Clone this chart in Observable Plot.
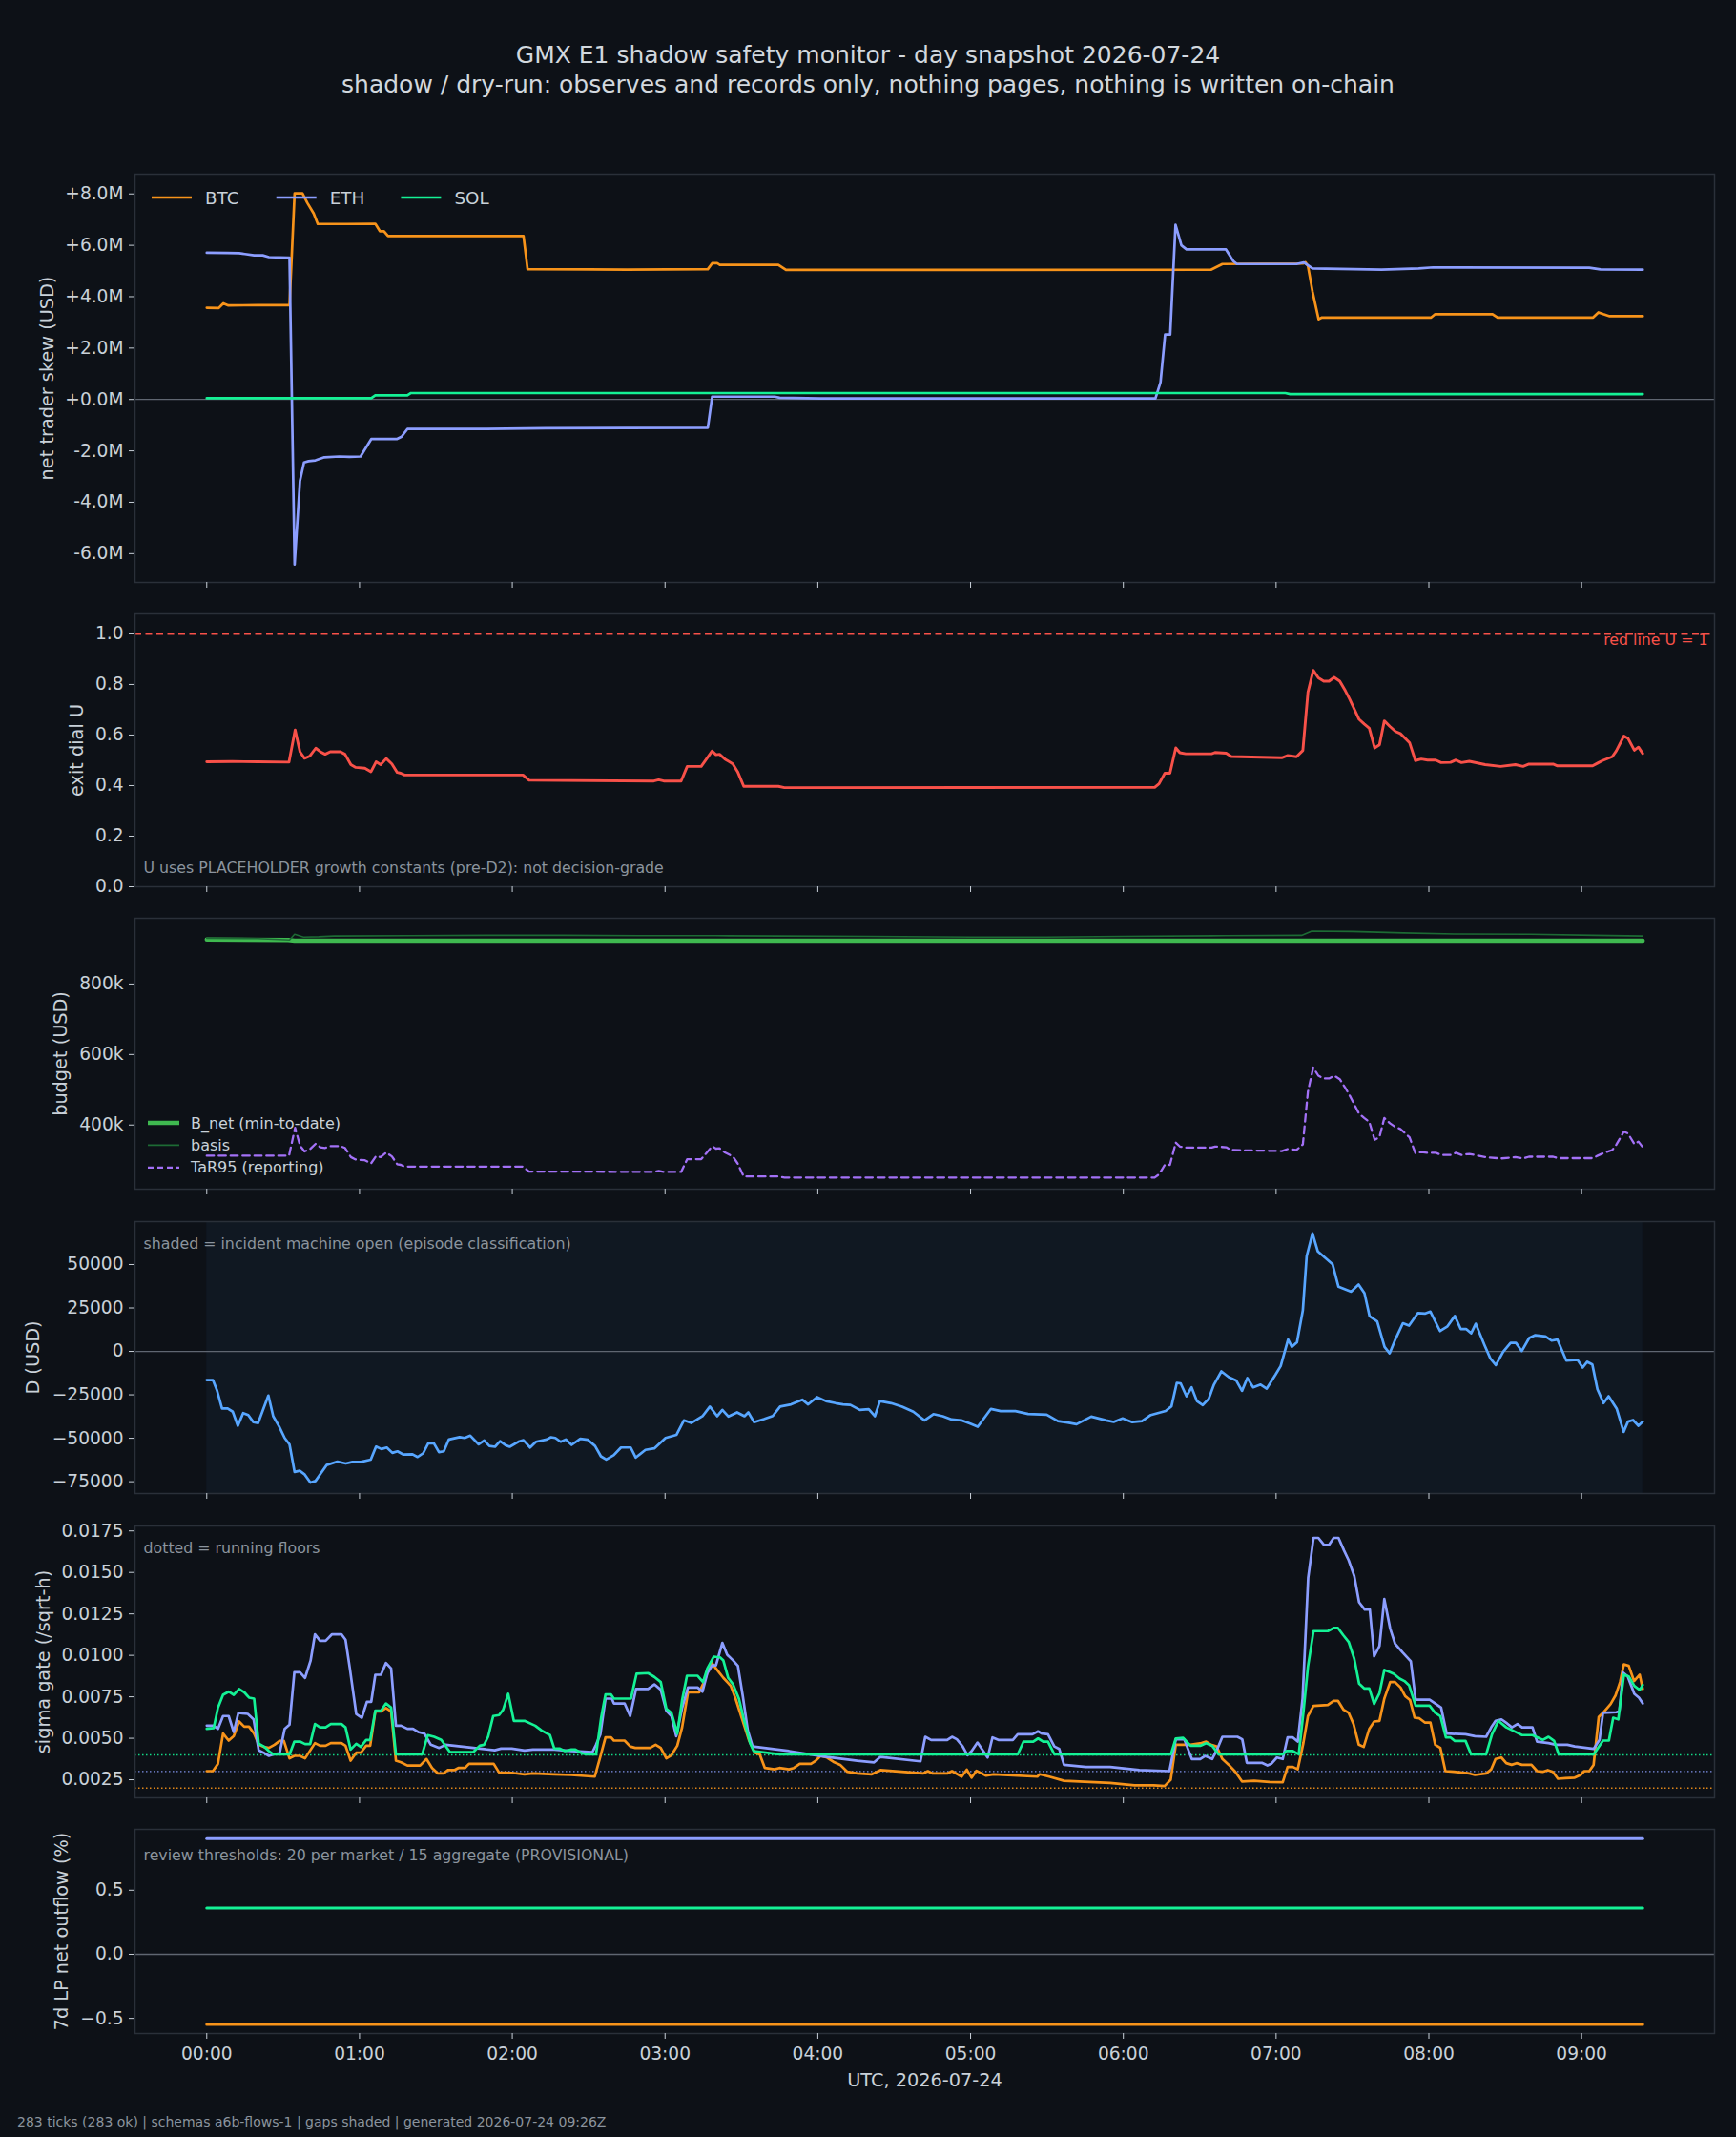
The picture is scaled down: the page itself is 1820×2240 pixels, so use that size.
<!DOCTYPE html>
<html>
<head>
<meta charset="utf-8">
<script src="https://cdn.jsdelivr.net/npm/d3@7"></script>
<script src="https://cdn.jsdelivr.net/npm/@observablehq/plot@0.6"></script>
<style>
  html, body { margin: 0; padding: 0; background: #0d1117; }
  #fig { position: relative; width: 1820px; height: 2240px; background: #0d1117;
         font-family: "DejaVu Sans", sans-serif; color: #c9d1d9; overflow: hidden; }
  .abs { position: absolute; }
  .title { left: 0; width: 1820px; text-align: center; font-size: 25px; line-height: 31px; color: #d2d8de; white-space: nowrap; }
  .footer { left: 18px; font-size: 14px; line-height: 16px; color: #8b949e; white-space: nowrap; }
  #fig svg { overflow: visible; }
</style>
</head>
<body>
<div id="fig">
  <div class="abs title" style="top:42px">GMX E1 shadow safety monitor - day snapshot 2026-07-24</div>
  <div class="abs title" style="top:73px">shadow / dry-run: observes and records only, nothing pages, nothing is written on-chain</div>
  <div class="abs footer" style="top:2216px">283 ticks (283 ok) | schemas a6b-flows-1 | gaps shaded | generated 2026-07-24 09:26Z</div>
</div>
<script>
// ---------------------------------------------------------------------------
// Data: minutes after 00:00 UTC, value. One tick every 2 minutes, 00:00-09:24.
// ---------------------------------------------------------------------------
const markets = ["BTC", "ETH", "SOL"];
const hourTicks = [0, 60, 120, 180, 240, 300, 360, 420, 480, 540];
const hourLabels = ["00:00", "01:00", "02:00", "03:00", "04:00", "05:00", "06:00", "07:00", "08:00", "09:00"];
const sessionSpan = [0, 564];

// net trader skew, USD millions
const btcSkew = [[0,3.57],[4.7,3.56],[6.5,3.74],[8.5,3.66],[20,3.67],[32.5,3.67],[34.5,8.02],[37.6,8.02],[39.5,7.65],[42,7.24],[43.6,6.83],[55,6.83],[66.2,6.84],[68,6.55],[69.6,6.55],[71.2,6.36],[90,6.36],[124.4,6.36],[126,5.07],[150,5.06],[165,5.05],[196.8,5.07],[198.5,5.3],[200.5,5.3],[201.5,5.24],[224.5,5.24],[227.5,5.04],[300,5.04],[394.4,5.05],[398.9,5.27],[430.5,5.29],[431.5,5.34],[432.5,5.2],[434.3,4.2],[436.7,3.12],[438,3.19],[480.9,3.19],[482.5,3.32],[505,3.32],[507,3.19],[544.5,3.19],[546.6,3.39],[548.5,3.32],[551,3.24],[564,3.24]];
const ethSkew = [[0,5.71],[8,5.7],[12.7,5.69],[15,5.66],[18.6,5.61],[22,5.61],[24.4,5.54],[32.5,5.52],[34.5,-6.42],[36.6,-3.17],[38.2,-2.45],[40,-2.4],[42.7,-2.37],[46.2,-2.25],[52,-2.22],[56,-2.23],[60.4,-2.22],[64.6,-1.54],[74.6,-1.54],[76.5,-1.45],[78.8,-1.15],[110,-1.15],[133,-1.12],[196.8,-1.1],[198.5,0.11],[223,0.11],[225,0.07],[241,0.04],[372.6,0.04],[374.6,0.67],[376.4,2.53],[378.4,2.53],[380.5,6.8],[382.8,6.0],[384.8,5.84],[400.3,5.84],[403.2,5.38],[404.6,5.27],[428,5.27],[430.9,5.33],[434.3,5.1],[461.4,5.05],[476,5.1],[481.7,5.14],[543,5.13],[547.4,5.06],[564,5.05]];
const solSkew = [[0,0.05],[64.6,0.05],[66.2,0.16],[78.8,0.16],[80.2,0.25],[423.6,0.25],[425.5,0.21],[564,0.21]];

// exit dial U and its red line
const exitDialU = [[0,0.494],[10,0.495],[20,0.494],[32.3,0.493],[34.7,0.62],[36.6,0.534],[38.4,0.508],[40.5,0.517],[42.8,0.548],[44.6,0.534],[46.5,0.524],[48.5,0.534],[52.5,0.534],[54.3,0.524],[56.6,0.483],[58.5,0.472],[62.1,0.469],[64.5,0.455],[66.5,0.494],[68.3,0.483],[70.5,0.507],[72.7,0.486],[74.8,0.452],[76.2,0.449],[77.7,0.442],[124.2,0.442],[126.6,0.421],[175.6,0.418],[177.5,0.423],[179.5,0.418],[186.3,0.418],[188.7,0.476],[194.2,0.476],[198.5,0.537],[200,0.522],[201.4,0.524],[203.5,0.505],[206.6,0.486],[208.5,0.455],[210.9,0.397],[224.5,0.397],[226.9,0.392],[372.3,0.393],[374,0.407],[376.3,0.449],[378.3,0.449],[380.6,0.549],[382.2,0.53],[384.5,0.526],[394.7,0.526],[396,0.531],[400.4,0.528],[402.4,0.515],[422.2,0.51],[424.6,0.519],[428,0.514],[430.5,0.539],[432.5,0.769],[434.6,0.856],[436.6,0.826],[438.7,0.813],[440.8,0.813],[442.8,0.828],[445,0.813],[447.2,0.775],[448.8,0.744],[452.6,0.662],[454.6,0.644],[456.6,0.627],[458.7,0.549],[460.6,0.561],[462.5,0.656],[464.7,0.634],[466.9,0.614],[468.8,0.606],[472.4,0.57],[474.7,0.499],[477,0.505],[479.5,0.501],[482.7,0.501],[484.8,0.491],[488.5,0.492],[490.6,0.501],[492.8,0.491],[495.9,0.496],[502.1,0.483],[508.2,0.476],[514,0.483],[517,0.476],[519.3,0.485],[528.8,0.485],[530.5,0.478],[544.3,0.478],[546.3,0.489],[548.2,0.499],[552,0.514],[553.6,0.537],[556.6,0.596],[558.2,0.587],[560.7,0.54],[562.3,0.552],[564,0.527]];
const redLine = [1];

// budget, USD thousands
const bNet = [[0,926],[32,925],[34.5,923],[564,923]];
const basis = [[0,930],[20,929],[32.5,925],[34.5,941],[38,933],[44,934],[50,936],[80,937],[110,938],[140,938],[170,937],[200,937],[225,936],[260,935],[300,933],[330,933],[360,935],[400,937],[430,938],[434,950],[450,949],[470,945],[490,942],[520,941],[545,938],[564,936]];
const tar95 = [[0,313],[32.3,313],[34.7,392],[36.6,342],[38.4,325],[40.5,331],[42.8,347],[44.6,337],[46.5,335],[48.5,340],[52.5,340],[54.3,335],[56.6,309],[58.5,302],[62.1,300],[64.5,291],[66.5,312],[68.3,309],[70.5,322],[72.7,311],[74.8,289],[76.2,287],[77.7,282],[124.2,282],[126.6,268],[175.6,267],[177.5,270],[179.5,267],[186.3,267],[188.7,303],[194.2,303],[198.5,340],[200,333],[201.4,334],[203.5,322],[206.6,311],[208.5,291],[210.9,254],[224.5,254],[226.9,251],[372.3,251],[374,260],[376.3,287],[378.3,287],[380.6,350],[382.2,339],[384.5,336],[394.7,336],[396,339],[400.4,337],[402.4,329],[422.2,326],[424.6,332],[428,329],[430.5,345],[432.5,495],[434.6,563],[436.6,540],[438.7,532],[440.8,532],[442.8,540],[445,530],[447.2,505],[448.8,485],[452.6,432],[454.6,420],[456.6,409],[458.7,358],[460.6,366],[462.5,420],[464.7,405],[466.9,394],[468.8,389],[472.4,365],[474.7,320],[477,323],[479.5,321],[482.7,321],[484.8,315],[488.5,315],[490.6,321],[492.8,315],[495.9,318],[502.1,309],[508.2,305],[514,309],[517,305],[519.3,310],[528.8,310],[530.5,306],[544.3,306],[546.3,313],[548.2,319],[552,329],[553.6,344],[556.6,381],[558.2,376],[560.7,346],[562.3,353],[564,337]];

// D, USD
const dUsd = [[0,-16500],[2.4,-16500],[4,-22300],[6,-32900],[8.2,-32900],[10.2,-34700],[12.2,-42800],[14.3,-35500],[16.3,-36600],[18.3,-40700],[20.2,-41200],[24.2,-25400],[26.1,-37300],[28.5,-43400],[30.6,-49800],[32.5,-53500],[34.5,-69400],[36.5,-68700],[38.5,-70900],[40.7,-75500],[42.7,-74600],[44.9,-70000],[47.1,-65400],[51.3,-63400],[54.6,-64500],[57.2,-63600],[60.5,-63600],[64.4,-62300],[66.5,-54800],[68.6,-56200],[70.7,-55300],[72.9,-58400],[74.9,-57500],[77.1,-59300],[80.8,-59200],[82.8,-60800],[85,-58600],[87,-52900],[89.2,-52900],[91.2,-58000],[93.1,-57500],[95.1,-50700],[99.3,-49300],[101.3,-49800],[103.5,-48500],[106.8,-53500],[109,-51300],[111,-54400],[113.2,-54900],[115.2,-51700],[117.4,-54000],[119,-54900],[122.8,-51700],[124.4,-51100],[127,-55300],[129.3,-52000],[133.5,-50700],[135.2,-49400],[136.9,-49800],[139,-52000],[141,-50700],[143.3,-53800],[146.7,-50300],[149.6,-50800],[152.5,-54400],[154.8,-60400],[156.9,-62200],[159.8,-59800],[162.7,-55300],[166.5,-55300],[168.5,-61100],[172.3,-56700],[175.8,-55800],[180.2,-49800],[184.5,-48000],[187.4,-39700],[190.3,-41200],[194.7,-37300],[197.6,-31800],[200.5,-37300],[202.5,-33700],[204.9,-37500],[208.3,-35100],[211.2,-37300],[212.7,-35100],[215,-40800],[218.8,-39000],[222.3,-37200],[225.2,-31800],[229.5,-30500],[233.9,-27800],[236.2,-30500],[239.7,-26300],[243.2,-28600],[247,-29800],[249.9,-30500],[252.8,-30800],[256.5,-33700],[260,-33300],[262.4,-37300],[264.4,-28600],[268.8,-29800],[273.1,-31800],[277.5,-34700],[281.9,-39700],[285.4,-36100],[289.1,-37300],[292.6,-39200],[296.4,-39700],[299.9,-41600],[302.8,-43400],[305.1,-38800],[308,-33100],[311.8,-34400],[317.6,-34400],[322.6,-36000],[329.9,-36400],[334.3,-40100],[338.1,-41000],[341.6,-41900],[347.4,-37500],[353.3,-39700],[356.2,-40600],[359.7,-38600],[363.5,-40700],[367.3,-40100],[370.8,-36600],[376.6,-34300],[378.9,-31600],[381,-18100],[382.5,-18400],[384.8,-25800],[386.8,-20700],[388.9,-28600],[391.2,-30900],[393.5,-27400],[395.6,-19100],[398.5,-11500],[401.4,-14800],[404.3,-16700],[406.6,-22700],[408.7,-15300],[411,-20700],[413.9,-19100],[416.3,-21400],[419.8,-13300],[421.8,-8400],[424.7,6800],[426.2,2600],[428.2,5300],[430.5,23600],[432,54800],[434.3,67900],[436.4,57500],[439.3,53800],[442.2,50100],[444.5,37200],[449.5,34400],[452.4,38500],[454.7,33500],[456.7,20300],[459.7,17200],[462.6,2600],[464.6,-1100],[466.9,7100],[469.8,16200],[472.2,14800],[475.7,22100],[478.6,21800],[480.6,22900],[484.4,11700],[487.3,14400],[490.2,20400],[492.5,12900],[494.6,12900],[496.6,10400],[498.4,15900],[501.9,3500],[504.2,-4200],[506.3,-7900],[509.2,-200],[512.1,4900],[514.2,4900],[516.5,200],[519.4,7700],[521.8,9300],[525.8,8600],[528.2,6200],[530.5,6800],[534,-5300],[538.4,-4900],[540.4,-9300],[542.2,-6000],[544.2,-7500],[546.2,-21800],[548.6,-29800],[550.6,-25800],[553.8,-33100],[556.5,-46300],[558.2,-40400],[560.2,-39500],[562.3,-42800],[564,-40400]];
const incidentWindows = [[0, 564]];

// sigma gate, per sqrt-hour, and running floors
const btcSigma = [[0,0.00302],[2.4,0.00302],[4.4,0.00346],[6.4,0.00528],[8.6,0.00486],[10.6,0.00513],[12.7,0.00601],[14.7,0.0057],[16.6,0.0057],[18.6,0.00528],[20.4,0.00461],[22.4,0.00448],[24.4,0.00442],[26.6,0.00461],[28.6,0.00484],[30.3,0.00484],[32.5,0.00379],[34.4,0.00394],[36.6,0.00394],[38.6,0.00379],[42.5,0.00471],[44.5,0.00455],[46.7,0.00455],[48.7,0.00471],[52.9,0.00471],[54.5,0.00455],[56.5,0.00365],[58.7,0.00413],[60.5,0.00413],[62.6,0.00455],[64.2,0.00455],[66.2,0.00662],[68.4,0.00662],[70.4,0.00682],[72.4,0.00662],[74.3,0.00365],[76.3,0.00355],[78.8,0.00336],[83.8,0.00336],[86.3,0.00375],[88.5,0.00321],[90.8,0.00288],[93,0.00288],[94.6,0.00308],[97.2,0.00308],[98.8,0.00321],[101.4,0.00321],[103,0.00346],[112.7,0.00346],[114.8,0.00294],[119.8,0.00292],[124.8,0.00283],[128.1,0.00288],[136.5,0.00283],[143.2,0.00279],[152.4,0.00269],[154.6,0.0039],[156.6,0.00505],[158.8,0.00505],[159.9,0.00486],[164.1,0.00486],[166.3,0.00451],[168.3,0.00442],[174.1,0.00442],[176.3,0.00461],[178.3,0.00442],[180.5,0.00379],[182.5,0.00398],[184.8,0.00455],[186.7,0.00566],[189,0.00777],[193.4,0.00777],[195.3,0.00839],[198.1,0.0096],[200,0.00921],[202.9,0.00864],[205.8,0.00816],[207.7,0.00739],[210.5,0.00605],[213,0.00486],[215.3,0.00413],[217.2,0.00403],[219.2,0.00321],[223,0.00313],[224.9,0.00321],[228.7,0.00313],[230.6,0.00321],[232.9,0.00346],[237.3,0.00346],[239.2,0.00365],[241.1,0.00394],[243.6,0.00384],[246.5,0.00355],[248.8,0.0034],[251.6,0.00298],[255.5,0.00288],[261.2,0.00283],[264.6,0.00308],[281.3,0.00288],[283.2,0.00302],[285.1,0.00288],[290.8,0.00288],[292.7,0.00302],[296.5,0.00269],[298.5,0.00311],[300.4,0.00263],[302.3,0.00304],[306.1,0.00275],[309,0.00283],[326.2,0.00269],[327.1,0.00283],[330.9,0.00269],[336.7,0.00244],[354.8,0.00231],[364.4,0.00217],[372,0.00217],[376.2,0.00212],[378.6,0.0025],[380.6,0.00461],[386.3,0.00461],[390.7,0.00471],[392.5,0.0048],[394.4,0.00461],[396.6,0.00451],[398.9,0.00375],[401.4,0.0034],[404,0.00298],[406.6,0.0024],[411.4,0.00244],[417.4,0.00237],[422.6,0.00235],[424.5,0.00327],[426.6,0.00327],[428.5,0.00313],[430.7,0.00471],[432.5,0.00634],[434.7,0.00695],[440.3,0.00701],[442.6,0.00726],[444.3,0.00726],[446.5,0.00672],[448.5,0.00653],[450.4,0.00586],[452.5,0.00461],[454.4,0.00448],[456.6,0.00557],[458.5,0.00601],[460.6,0.00605],[462.5,0.00739],[464.8,0.00839],[466.7,0.00839],[468.9,0.00806],[470.7,0.00754],[472.6,0.0073],[474.4,0.00624],[476.3,0.0062],[478.4,0.00595],[480.6,0.00595],[482.5,0.00461],[484.5,0.00442],[486.5,0.00302],[489.9,0.00298],[495.9,0.00288],[498.1,0.00279],[502.5,0.00288],[504.5,0.00313],[506.2,0.00375],[508.5,0.00384],[510.4,0.0035],[512.5,0.0034],[514.4,0.0035],[516.6,0.0034],[520.3,0.0034],[522.5,0.00302],[524.7,0.00298],[526.7,0.00308],[528.7,0.00298],[530.7,0.00256],[533.6,0.0026],[537.3,0.00263],[539.6,0.00279],[541,0.00302],[543,0.00302],[544.7,0.0034],[546.7,0.00628],[548.9,0.00662],[551.4,0.00707],[553.3,0.00758],[555.1,0.00839],[556.6,0.00946],[558.5,0.00937],[560.6,0.00845],[562.8,0.00883],[564,0.00797]];
const ethSigma = [[0,0.00576],[2.7,0.00576],[4.4,0.00557],[6.4,0.00634],[8.6,0.00634],[10.6,0.00538],[12.4,0.00653],[16.1,0.00647],[18.4,0.00614],[20.4,0.00428],[22.3,0.00413],[24.4,0.00394],[26.1,0.00403],[28.6,0.00409],[30.6,0.00557],[32.5,0.00582],[34.4,0.00898],[36.6,0.00898],[38.6,0.00864],[40.8,0.00969],[42.5,0.01127],[44.5,0.01088],[46.7,0.01088],[49.2,0.01127],[52.9,0.01127],[54.5,0.01094],[56.2,0.00921],[58.7,0.00647],[60.9,0.00624],[62.9,0.0072],[64.6,0.0072],[66.2,0.00883],[68.4,0.00883],[70.4,0.00954],[72.4,0.00921],[74.3,0.00576],[76.3,0.00576],[78.8,0.00557],[81,0.00557],[83,0.00538],[85.5,0.00528],[88,0.00461],[91.3,0.00442],[93.8,0.00461],[101.4,0.00448],[108.1,0.00436],[113.1,0.00428],[115.6,0.00438],[119.8,0.00438],[124.8,0.00426],[128.1,0.00432],[136.5,0.00432],[143.2,0.00423],[151.5,0.00417],[152.9,0.00461],[154.6,0.00524],[156.6,0.00739],[159.1,0.00739],[159.9,0.0071],[164.1,0.0071],[166.3,0.00634],[168.6,0.00797],[173.3,0.00797],[175.8,0.00825],[178.3,0.00793],[180.5,0.00666],[182.5,0.00634],[184.4,0.00513],[186.7,0.00682],[189,0.00806],[192.8,0.00806],[194.7,0.00781],[196.6,0.00893],[198.5,0.0094],[200,0.0094],[202.5,0.01075],[204.4,0.01004],[206.7,0.0097],[208.6,0.00937],[210.5,0.00758],[212.5,0.00547],[214.4,0.00451],[228.7,0.00423],[242.1,0.0039],[255.5,0.00365],[262.1,0.00355],[264.6,0.00388],[280.3,0.00361],[282.2,0.00509],[284.5,0.0049],[290.8,0.0049],[292.7,0.00509],[294.6,0.00494],[296.9,0.00451],[298.8,0.00398],[300.4,0.00423],[302.7,0.00474],[306.7,0.00384],[308.6,0.00505],[310.9,0.0049],[316.6,0.0049],[318.5,0.00524],[324.3,0.00524],[326.5,0.00542],[328.1,0.00528],[330.4,0.00524],[332.9,0.00451],[334.8,0.00436],[336.7,0.0034],[345.3,0.00327],[354.8,0.00327],[366.3,0.00308],[378.1,0.00302],[380.6,0.00494],[383.9,0.00494],[386.9,0.00375],[390.2,0.00375],[392.1,0.00394],[394.9,0.00375],[396.9,0.00436],[398.9,0.00509],[404.8,0.00509],[406.7,0.00494],[408.5,0.00352],[414.4,0.00352],[416.6,0.00336],[418.1,0.00346],[420.3,0.00384],[422.6,0.00375],[424.5,0.00505],[426.6,0.00505],[428.5,0.0048],[430.4,0.00739],[432.6,0.01468],[434.7,0.01708],[436.6,0.01708],[438.8,0.01666],[440.8,0.01666],[442.6,0.01708],[444.5,0.01708],[446.7,0.01631],[448.5,0.01573],[450.7,0.01478],[452.6,0.0132],[454.8,0.01276],[456.8,0.01276],[458.5,0.00994],[460.6,0.01056],[462.5,0.01339],[464.8,0.01161],[466.7,0.01071],[469.7,0.01017],[472.9,0.00964],[474.8,0.00733],[480.3,0.00733],[482.5,0.0071],[484.8,0.00685],[487,0.00528],[494.4,0.00524],[498.1,0.00513],[502.5,0.00509],[504.5,0.00566],[506.2,0.00605],[508.5,0.00614],[510.7,0.0059],[512.6,0.00566],[514.8,0.00586],[516.6,0.00566],[520.7,0.00566],[522.5,0.0048],[527,0.00471],[529.9,0.00461],[534.4,0.00461],[537.3,0.00451],[541.8,0.00442],[544.7,0.00436],[547,0.0049],[548.4,0.00653],[553.6,0.00657],[554.8,0.00662],[556.3,0.00896],[558.1,0.00873],[560.7,0.00768],[562.5,0.00745],[564,0.0071]];
const solSigma = [[0,0.00557],[2.7,0.00561],[4.4,0.00685],[6.4,0.00762],[8.6,0.00781],[10.6,0.00762],[12.7,0.00797],[14.7,0.00778],[16.6,0.00745],[18.6,0.00739],[20.4,0.00467],[22.4,0.00451],[24.4,0.00423],[26.1,0.00403],[32.5,0.00403],[34.4,0.0048],[36.6,0.0048],[38.6,0.00465],[40.6,0.00465],[42.5,0.00586],[44.5,0.00566],[46.7,0.00566],[48.7,0.00586],[52.9,0.00586],[54.5,0.00566],[56.5,0.00432],[58.7,0.00467],[60.5,0.00448],[62.6,0.0049],[64.2,0.0049],[66.2,0.00666],[68.4,0.00666],[70.4,0.0071],[72.4,0.00685],[74.3,0.00403],[84.6,0.00403],[86.8,0.00519],[89.3,0.00509],[92.1,0.0049],[95.5,0.00417],[104.7,0.00417],[107.2,0.00455],[108.9,0.00461],[110.5,0.00509],[112.5,0.00634],[114.8,0.0064],[116.4,0.00672],[118.4,0.00768],[120.6,0.00605],[124.8,0.00605],[129,0.00576],[131.5,0.00547],[134.8,0.00519],[136.5,0.00438],[138.5,0.00438],[140.7,0.00423],[143.2,0.00432],[144.8,0.00432],[146.8,0.00413],[149,0.00403],[152.9,0.00403],[154.9,0.00624],[156.6,0.00764],[158.8,0.00764],[159.9,0.00739],[166.6,0.00739],[168.8,0.00889],[173.3,0.00893],[175.8,0.0087],[178.3,0.00839],[180.5,0.00678],[182.5,0.00653],[184.8,0.00528],[186.7,0.0073],[188.6,0.00877],[192.8,0.00877],[194.9,0.00839],[196.6,0.00921],[199.1,0.00992],[201.6,0.00988],[202.9,0.00969],[204.8,0.00864],[206.7,0.00825],[209,0.00739],[211.1,0.00605],[213.4,0.00471],[214.8,0.00423],[224.9,0.00403],[318.5,0.00403],[320.8,0.0048],[324.6,0.0048],[326.5,0.00499],[328.5,0.0048],[330.4,0.0048],[332.9,0.00403],[378.7,0.00403],[380.6,0.00499],[383.5,0.00503],[386.4,0.00455],[390.2,0.00455],[392.5,0.0047],[394.9,0.00455],[397.4,0.00403],[422.6,0.00403],[424,0.00423],[426.6,0.00423],[428.9,0.00403],[430.7,0.00653],[432.5,0.00931],[434.7,0.01146],[440.3,0.01146],[442.6,0.01165],[444.3,0.01165],[446.3,0.01123],[448.5,0.01081],[450.7,0.00979],[452.6,0.00829],[454.7,0.008],[456.6,0.008],[458.5,0.00707],[460.6,0.00772],[462.5,0.00912],[464.5,0.009],[466.2,0.00889],[468.5,0.0086],[470.4,0.00845],[472.2,0.0082],[474.8,0.00697],[480.3,0.00697],[482.5,0.00653],[484.5,0.00634],[486.7,0.00505],[488.5,0.00505],[490.2,0.00484],[494.4,0.00484],[496.6,0.00403],[502.5,0.00403],[504.8,0.00524],[507.3,0.00605],[510.4,0.00566],[512.9,0.00547],[516.6,0.00519],[520.7,0.00519],[524.7,0.0049],[527,0.00509],[529.2,0.00484],[531,0.00403],[544.7,0.00403],[547,0.00455],[548.4,0.00486],[550.7,0.00486],[552.4,0.00624],[554.4,0.00614],[556.6,0.00883],[558.5,0.00873],[560.7,0.00816],[562.8,0.00791],[564,0.00822]];
const sigmaFloors = [0.0020, 0.0030, 0.0040]; // BTC, ETH, SOL

// 7d LP net outflow, percent (BTC, ETH, SOL)
const lpOutflowPct = [-0.548, 0.903, 0.36];

// ---------------------------------------------------------------------------
// Styling
// ---------------------------------------------------------------------------
const C = {
  BTC: "#f7931a", ETH: "#8c9eff", SOL: "#14f195",
  U: "#f85149", bNet: "#3fb950", basis: "#1d6b34", tar: "#a371f7", D: "#58a6ff",
  text: "#c9d1d9", note: "#8b949e", frame: "#2a3039", zero: "#5f6671"
};
const FONT = "DejaVu Sans, sans-serif";
const FIG_W = 1820, M_LEFT = 141, M_RIGHT = 23;
const TICK_FS = 18.6, LABEL_FS = 19.3, NOTE_FS = 15.8;
const LW = 2.7;
const xDomain = [-28.2, 592.2];
const fig = document.getElementById("fig");
const px = d => d[0], py = d => d[1];

function panel({frameTop, frameHeight, y, label, labelX, marks, showX = false}) {
  const mt = 12, mb = showX ? 80 : 14;
  const chart = Plot.plot({
    width: FIG_W,
    height: frameHeight + mt + mb,
    marginLeft: M_LEFT, marginRight: M_RIGHT, marginTop: mt, marginBottom: mb,
    style: {background: "none", color: C.text, fontFamily: FONT, fontSize: TICK_FS + "px"},
    x: {type: "linear", domain: xDomain},
    y: {type: "linear", domain: y.domain},
    marks: [
      ...marks,
      Plot.frame({stroke: C.frame, strokeWidth: 1.5}),
      Plot.axisX({
        ticks: hourTicks, tickSize: 6, tickPadding: 8, label: null,
        tickFormat: showX ? (d => hourLabels[hourTicks.indexOf(d)]) : (() => "")
      }),
      Plot.axisY({ticks: y.ticks, tickFormat: y.format, tickSize: 6, tickPadding: 6, label: null}),
      Plot.text([label], {
        text: d => d, frameAnchor: "left", dx: labelX - M_LEFT, rotate: -90,
        textAnchor: "middle", lineAnchor: "middle", fill: C.text, fontSize: LABEL_FS
      }),
      ...(showX ? [Plot.text(["UTC, 2026-07-24"], {
        text: d => d, frameAnchor: "bottom", dy: 49, lineAnchor: "middle", fill: C.text, fontSize: LABEL_FS
      })] : [])
    ]
  });
  chart.style.position = "absolute";
  chart.style.left = "0px";
  chart.style.top = (frameTop - mt) + "px";
  chart.style.maxWidth = "none";
  fig.appendChild(chart);
}

function note(textValue, anchor, dx, dy, opts = {}) {
  return Plot.text([textValue], {
    text: d => d, frameAnchor: anchor, dx, dy, lineAnchor: "middle",
    textAnchor: "start", fill: C.note, fontSize: NOTE_FS, ...opts
  });
}

const signedM = d => (d >= 0 ? "+" : "-") + Math.abs(d).toFixed(1) + "M";
const minusFmt = digits => d => (d < 0 ? "\u2212" : "") + (digits == null ? String(Math.abs(d)) : Math.abs(d).toFixed(digits));

// 1. net trader skew
panel({
  frameTop: 182, frameHeight: 428, label: "net trader skew (USD)", labelX: 49,
  y: {domain: [-7.12, 8.77], ticks: [-6, -4, -2, 0, 2, 4, 6, 8], format: signedM},
  marks: [
    Plot.ruleY([0], {stroke: C.zero, strokeWidth: 1.3}),
    Plot.line(btcSkew, {x: px, y: py, stroke: C.BTC, strokeWidth: LW}),
    Plot.line(ethSkew, {x: px, y: py, stroke: C.ETH, strokeWidth: LW}),
    Plot.line(solSkew, {x: px, y: py, stroke: C.SOL, strokeWidth: LW})
  ]
});

// 2. exit dial U
panel({
  frameTop: 643, frameHeight: 286, label: "exit dial U", labelX: 80,
  y: {domain: [0, 1.079], ticks: [0, 0.2, 0.4, 0.6, 0.8, 1.0], format: d => d.toFixed(1)},
  marks: [
    Plot.ruleY(redLine, {stroke: C.U, strokeWidth: 2, strokeDasharray: "7,4.5"}),
    Plot.line(exitDialU, {x: px, y: py, stroke: C.U, strokeWidth: 2.9}),
    note("red line U = 1", "top-right", -7, 27, {textAnchor: "end", fill: C.U}),
    note("U uses PLACEHOLDER growth constants (pre-D2): not decision-grade", "bottom-left", 9, -20)
  ]
});

// 3. budget
panel({
  frameTop: 962, frameHeight: 284, label: "budget (USD)", labelX: 63,
  y: {domain: [218, 986.5], ticks: [400, 600, 800], format: d => d + "k"},
  marks: [
    Plot.line(bNet, {x: px, y: py, stroke: C.bNet, strokeWidth: 4.5}),
    Plot.line(basis, {x: px, y: py, stroke: C.basis, strokeWidth: 1.6}),
    Plot.line(tar95, {x: px, y: py, stroke: C.tar, strokeWidth: 2.3, strokeDasharray: "7.5,5"})
  ]
});

// 4. D with incident shading
panel({
  frameTop: 1280, frameHeight: 285, label: "D (USD)", labelX: 34,
  y: {domain: [-81800, 74700], ticks: [-75000, -50000, -25000, 0, 25000, 50000], format: minusFmt(null)},
  marks: [
    Plot.rect(incidentWindows, {x1: px, x2: py, fill: C.D, fillOpacity: 0.05}),
    Plot.ruleY([0], {stroke: C.zero, strokeWidth: 1.3}),
    Plot.line(dUsd, {x: px, y: py, stroke: C.D, strokeWidth: LW}),
    note("shaded = incident machine open (episode classification)", "top-left", 9, 23)
  ]
});

// 5. sigma gate
const floorRows = markets.map((m, i) => ({market: m, floor: sigmaFloors[i]}));
panel({
  frameTop: 1599, frameHeight: 285, label: "sigma gate (/sqrt-h)", labelX: 45,
  y: {domain: [0.00141, 0.0178], ticks: [0.0025, 0.005, 0.0075, 0.01, 0.0125, 0.015, 0.0175], format: d => d.toFixed(4)},
  marks: [
    Plot.ruleY(floorRows, {y: "floor", stroke: d => C[d.market], strokeWidth: 1.4, strokeDasharray: "1.5,2.5", strokeOpacity: 0.9}),
    Plot.line(btcSigma, {x: px, y: py, stroke: C.BTC, strokeWidth: LW}),
    Plot.line(ethSigma, {x: px, y: py, stroke: C.ETH, strokeWidth: LW}),
    Plot.line(solSigma, {x: px, y: py, stroke: C.SOL, strokeWidth: LW}),
    note("dotted = running floors", "top-left", 9, 23)
  ]
});

// 6. 7d LP net outflow
const lpRows = markets.flatMap((m, i) => sessionSpan.map(t => ({market: m, t, v: lpOutflowPct[i]})));
panel({
  frameTop: 1917, frameHeight: 214, label: "7d LP net outflow (%)", labelX: 64, showX: true,
  y: {domain: [-0.618, 0.975], ticks: [-0.5, 0, 0.5], format: minusFmt(1)},
  marks: [
    Plot.ruleY([0], {stroke: C.zero, strokeWidth: 1.3}),
    Plot.line(lpRows, {x: "t", y: "v", z: "market", stroke: d => C[d.market], strokeWidth: 3}),
    note("review thresholds: 20 per market / 15 aggregate (PROVISIONAL)", "top-left", 9, 27)
  ]
});

// ---------------------------------------------------------------------------
// Legends
// ---------------------------------------------------------------------------
const NS = "http://www.w3.org/2000/svg";
function legend(entries, {x0, y0, dx, dy, swatch, gap, fontSize}) {
  const svg = document.createElementNS(NS, "svg");
  svg.setAttribute("width", FIG_W); svg.setAttribute("height", 2240);
  svg.style.position = "absolute"; svg.style.left = "0px"; svg.style.top = "0px";
  svg.style.pointerEvents = "none";
  entries.forEach((e, i) => {
    const x = x0 + i * dx, y = y0 + i * dy;
    const ln = document.createElementNS(NS, "line");
    ln.setAttribute("x1", x); ln.setAttribute("x2", x + swatch);
    ln.setAttribute("y1", y); ln.setAttribute("y2", y);
    ln.setAttribute("stroke", e.color); ln.setAttribute("stroke-width", e.width);
    if (e.dash) ln.setAttribute("stroke-dasharray", e.dash);
    svg.appendChild(ln);
    const tx = document.createElementNS(NS, "text");
    tx.setAttribute("x", x + gap); tx.setAttribute("y", y);
    tx.setAttribute("dominant-baseline", "central");
    tx.setAttribute("fill", C.text);
    tx.setAttribute("font-family", FONT); tx.setAttribute("font-size", fontSize);
    tx.textContent = e.label;
    svg.appendChild(tx);
  });
  fig.appendChild(svg);
}

legend(markets.map(m => ({label: m, color: C[m], width: LW})),
  {x0: 159, y0: 207, dx: 130.7, dy: 0, swatch: 42, gap: 56, fontSize: 18.3});

legend([
  {label: "B_net (min-to-date)", color: C.bNet, width: 4.5},
  {label: "basis", color: C.basis, width: 1.8},
  {label: "TaR95 (reporting)", color: C.tar, width: 2.3, dash: "6,4"}
], {x0: 155, y0: 1177, dx: 0, dy: 23.4, swatch: 33, gap: 45, fontSize: 16});
</script>
</body>
</html>
